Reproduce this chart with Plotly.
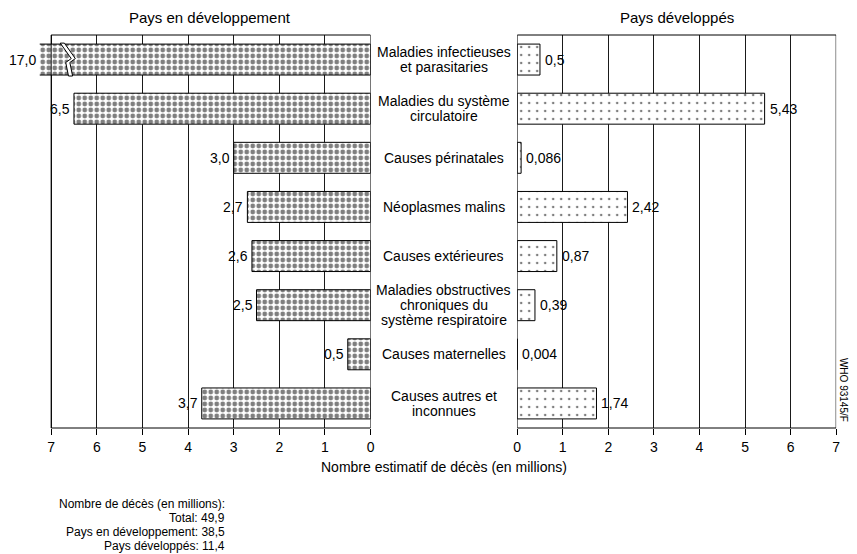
import plotly.graph_objects as go

# ---------------- data ----------------
categories = [
    "Maladies infectieuses\net parasitaries",
    "Maladies du système\ncirculatoire",
    "Causes périnatales",
    "Néoplasmes malins",
    "Causes extérieures",
    "Maladies obstructives\nchroniques du\nsystème respiratoire",
    "Causes maternelles",
    "Causes autres et\ninconnues",
]
developing_values = [17.0, 6.5, 3.0, 2.7, 2.6, 2.5, 0.5, 3.7]
developing_labels = ["17,0", "6,5", "3,0", "2,7", "2,6", "2,5", "0,5", "3,7"]
developed_values = [0.5, 5.43, 0.086, 2.42, 0.87, 0.39, 0.004, 1.74]
developed_labels = ["0,5", "5,43", "0,086", "2,42", "0,87", "0,39", "0,004", "1,74"]
tick_values = [0, 1, 2, 3, 4, 5, 6, 7]
tick_labels = ["0", "1", "2", "3", "4", "5", "6", "7"]

title_left = "Pays en développement"
title_right = "Pays développés"
axis_title = "Nombre estimatif de décès (en millions)"
footnote_head = "Nombre de décès (en millions):"
footnote_lines = ["Total: 49,9", "Pays en développement: 38,5", "Pays développés: 11,4"]
credit = "WHO 93145/F"

# ---------------- layout helpers ----------------
PAGE_OFF = 8  # default body margin of the html page
W, H = 857 - PAGE_OFF, 554 - PAGE_OFF
FONT = "Liberation Sans, Arial, Helvetica, sans-serif"


def px(x):
    return (x - PAGE_OFF) / W


def py(y):
    return 1 - (y - PAGE_OFF) / H


LEFT_MAX = 7.25  # left axis extends slightly past 7 so the broken bar shows
ypos = list(range(len(categories)))

fig = go.Figure()

fig.add_trace(go.Bar(
    x=developing_values, y=ypos, orientation="h",
    xaxis="x", yaxis="y",
    marker=dict(color="white",
                line=dict(color="black", width=1),
                pattern=dict(shape=".", fgcolor="black", bgcolor="white",
                             size=6, solidity=0.5)),
    hoverinfo="skip", showlegend=False,
))
fig.add_trace(go.Bar(
    x=developed_values, y=ypos, orientation="h",
    xaxis="x2", yaxis="y2",
    marker=dict(color="white",
                line=dict(color="black", width=1),
                pattern=dict(shape=".", fgcolor="black", bgcolor="white",
                             size=8, solidity=0.08)),
    hoverinfo="skip", showlegend=False,
))

ydom = [py(428), py(35)]
axis_common = dict(
    tickvals=tick_values, ticktext=tick_labels,
    ticks="outside", ticklen=6, tickcolor="black", tickwidth=1,
    showgrid=True, gridcolor="#1a1a1a", gridwidth=1,
    zeroline=False, showline=False,
    tickfont=dict(family=FONT, size=14, color="black"),
    fixedrange=True,
)
fig.update_layout(
    width=W, height=H,
    margin=dict(l=0, r=0, t=0, b=0),
    paper_bgcolor="white", plot_bgcolor="white",
    bargap=0.37,
    font=dict(family=FONT, color="black"),
    xaxis=dict(domain=[px(36), px(370)], range=[LEFT_MAX, 0], anchor="y", **axis_common),
    xaxis2=dict(domain=[px(518), px(840)], range=[0, 7], anchor="y2", **axis_common),
    yaxis=dict(domain=ydom, range=[len(categories) - 0.5, -0.5], anchor="x",
               showticklabels=False, showgrid=False, zeroline=False, ticks=""),
    yaxis2=dict(domain=ydom, range=[len(categories) - 0.5, -0.5], anchor="x2",
                showticklabels=False, showgrid=False, zeroline=False, ticks=""),
)

shapes = [
    dict(type="rect", xref="x", yref="y domain", x0=7, x1=0, y0=0, y1=1,
         line=dict(color="black", width=1), fillcolor="rgba(0,0,0,0)", layer="above"),
    dict(type="rect", xref="x2", yref="y2 domain", x0=0, x1=7, y0=0, y1=1,
         line=dict(color="black", width=1), fillcolor="rgba(0,0,0,0)", layer="above"),
]

# break marks on bars that exceed the axis
half = (1 - 0.37) / 2
for i, v in enumerate(developing_values):
    if v > LEFT_MAX:
        t, b = i - half - 0.02, i + half + 0.02
        a = [(6.80, t), (6.56, i - 0.02), (6.68, i + 0.06), (6.62, b)]
        g = 0.09
        pts = a + [(x - g, y) for (x, y) in reversed(a)]
        path = "M " + " L ".join(f"{x},{y}" for x, y in pts) + " Z"
        shapes.append(dict(type="path", xref="x", yref="y", path=path,
                           fillcolor="white", line=dict(color="black", width=1),
                           layer="above"))
fig.update_layout(shapes=shapes)

ann = []
# value labels
for i, (v, lab) in enumerate(zip(developing_values, developing_labels)):
    ann.append(dict(xref="x", yref="y", x=min(v, LEFT_MAX), y=i, text=lab,
                    showarrow=False, xanchor="right", yanchor="middle", xshift=-2,
                    font=dict(family=FONT, size=14, color="black")))
for i, (v, lab) in enumerate(zip(developed_values, developed_labels)):
    ann.append(dict(xref="x2", yref="y2", x=v, y=i, text=lab,
                    showarrow=False, xanchor="left", yanchor="middle", xshift=3,
                    font=dict(family=FONT, size=14, color="black")))
# category labels (centered between panels)
LINE = 15
for i, cat in enumerate(categories):
    lines = cat.split("\n")
    n = len(lines)
    for j, ln in enumerate(lines):
        ann.append(dict(xref="paper", yref="y", x=px(444), y=i, text=ln,
                        showarrow=False, xanchor="center", yanchor="middle",
                        yshift=((n - 1) / 2 - j) * LINE,
                        font=dict(family=FONT, size=14, color="black")))
# titles
ann.append(dict(xref="paper", yref="paper", x=px(208), y=py(17), text=title_left,
                showarrow=False, xanchor="center", yanchor="middle",
                font=dict(family=FONT, size=15, color="black")))
ann.append(dict(xref="paper", yref="paper", x=px(679), y=py(17), text=title_right,
                showarrow=False, xanchor="center", yanchor="middle",
                font=dict(family=FONT, size=15, color="black")))
ann.append(dict(xref="paper", yref="paper", x=px(444), y=py(467), text=axis_title,
                showarrow=False, xanchor="center", yanchor="middle",
                font=dict(family=FONT, size=14, color="black")))
# footnote
ann.append(dict(xref="paper", yref="paper", x=px(53), y=py(504), text=footnote_head,
                showarrow=False, xanchor="left", yanchor="middle",
                font=dict(family=FONT, size=12, color="black")))
for k, ln in enumerate(footnote_lines):
    ann.append(dict(xref="paper", yref="paper", x=px(225), y=py(518 + 14 * k), text=ln,
                    showarrow=False, xanchor="right", yanchor="middle",
                    font=dict(family=FONT, size=12, color="black")))
# credit
ann.append(dict(xref="paper", yref="paper", x=px(848), y=py(390), text=credit,
                showarrow=False, xanchor="center", yanchor="middle", textangle=90,
                font=dict(family=FONT, size=10, color="black")))
fig.update_layout(annotations=ann)

fig.write_html("out.html")
